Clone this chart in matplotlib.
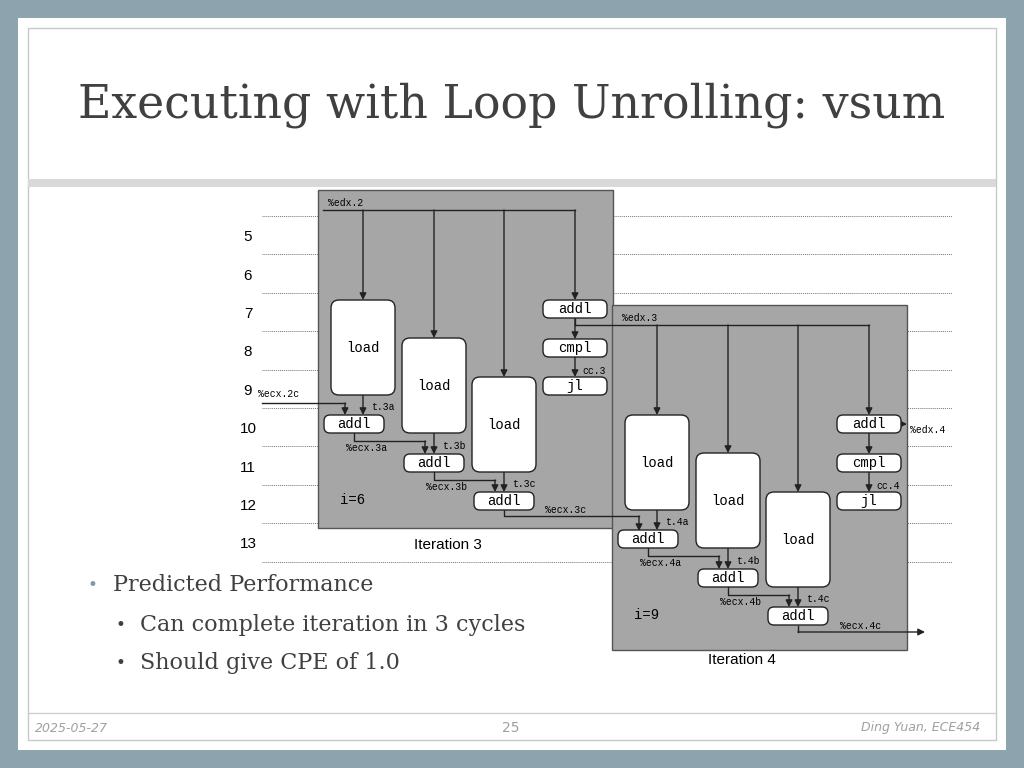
import matplotlib
matplotlib.use("Agg")
import matplotlib.pyplot as plt
from matplotlib.patches import Rectangle, FancyBboxPatch
from matplotlib.lines import Line2D

cycles = [5, 6, 7, 8, 9, 10, 11, 12, 13]
iterations = ["Iteration 3", "Iteration 4"]
i_values = ["i=6", "i=9"]
edx_names = ["%edx.2", "%edx.3", "%edx.4"]
ecx_names = [["%ecx.3a", "%ecx.3b", "%ecx.3c"], ["%ecx.4a", "%ecx.4b", "%ecx.4c"]]
t_names = [["t.3a", "t.3b", "t.3c"], ["t.4a", "t.4b", "t.4c"]]
cc_names = ["cc.3", "cc.4"]
bullets = ["Predicted Performance", "Can complete iteration in 3 cycles", "Should give CPE of 1.0"]

fig = plt.figure(figsize=(10.24, 7.68), dpi=100)
ax = fig.add_axes([0, 0, 1, 1])
ax.set_xlim(0, 1024); ax.set_ylim(768, 0); ax.axis("off")
fig.patch.set_facecolor("#8da3ad")
ax.add_patch(Rectangle((18, 18), 988, 732, fc="white", ec="none", zorder=0))
ax.add_patch(Rectangle((28, 28), 968, 712, fc="none", ec="#c8c8c8", lw=1, zorder=0))
ax.add_patch(Rectangle((28, 179), 968, 8, fc="#d9d9d9", ec="none", zorder=0))
ax.text(78, 105, "Executing with Loop Unrolling: vsum", fontsize=33, family="DejaVu Serif",
        color="#404040", va="center")

MONO = "Liberation Mono"
K = "#222222"

# cycle rows
ys0 = 216; step = 38.4
for k in range(len(cycles) + 1):
    y = ys0 + k * step
    ax.plot([262, 952], [y, y], ls=(0, (1, 1)), color="#777777", lw=0.7, zorder=1)
for k, c in enumerate(cycles):
    ax.text(248, ys0 + (k + 0.55) * step, str(c), fontsize=11, family="Liberation Sans",
            ha="center", va="center", zorder=2)

def seg(pts, arrow=True):
    xs, ys = zip(*pts)
    ax.plot(xs[:-1] + (xs[-1],), ys[:-1] + (ys[-1],), color=K, lw=1, zorder=4) if not arrow else None
    if arrow:
        ax.plot(xs[:-1], ys[:-1], color=K, lw=1, zorder=4) if len(pts) > 2 else None
        ax.annotate("", xy=pts[-1], xytext=pts[-2],
                    arrowprops=dict(arrowstyle="-|>", color=K, lw=1, mutation_scale=10,
                                    shrinkA=0, shrinkB=0), zorder=4)

def small(x, y, s, ha="left", size=7):
    ax.text(x, y, s, fontsize=size, family=MONO, ha=ha, va="center", zorder=5)

def box(cx, cy, label, w=62, h=18):
    ax.add_patch(FancyBboxPatch((cx - w / 2, cy - h / 2), w, h, boxstyle="round,pad=0,rounding_size=6",
                                fc="white", ec=K, lw=1, zorder=5))
    ax.text(cx, cy, label, fontsize=10, family=MONO, ha="center", va="center", zorder=6)

def iteration(n, dx, dy):
    ax.add_patch(Rectangle((318 + dx, 190 + dy), 295, 338 + (7 if n else 0), fc="#a6a6a6",
                           ec="#555555", lw=1, zorder=2))
    ax.text(328 + dx, 203 + dy, edx_names[n], fontsize=7, family=MONO, va="center", zorder=5)
    ax.text(448 + dx, 545 + dy, iterations[n], fontsize=11, family="Liberation Sans",
            ha="center", va="center", zorder=5)
    ax.text(340 + dx, 500 + dy, i_values[n], fontsize=10, family=MONO, va="center", zorder=5)
    y_e = 210 + dy
    x_start = 323 + dx if n == 0 else 575
    ax.plot([x_start, 575 + dx], [y_e, y_e], color=K, lw=1, zorder=4)
    if n == 1:
        ax.plot([575, 575], [318, 325], color=K, lw=1, zorder=4)
    lx = [363, 434, 504]; lt = [300, 338, 377]
    for j in range(3):
        seg([(lx[j] + dx, y_e), (lx[j] + dx, lt[j] + dy)])
        ax.add_patch(FancyBboxPatch((lx[j] - 32 + dx, lt[j] + dy), 64, 95,
                                    boxstyle="round,pad=0,rounding_size=8",
                                    fc="white", ec=K, lw=1, zorder=5))
        ax.text(lx[j] + dx, lt[j] + 48 + dy, "load", fontsize=10, family=MONO, ha="center",
                va="center", zorder=6)
    seg([(575 + dx, y_e), (575 + dx, 300 + dy)])
    # control column
    box(575 + dx, 309 + dy, "addl", 64)
    box(575 + dx, 348 + dy, "cmpl", 64)
    box(575 + dx, 386 + dy, "jl", 64)
    seg([(575 + dx, 318 + dy), (575 + dx, 339 + dy)])
    seg([(575 + dx, 357 + dy), (575 + dx, 377 + dy)])
    small(582 + dx, 371 + dy, cc_names[n])
    if n == 1:
        seg([(607 + dx, 309 + dy), (613 + dx, 309 + dy)])
        small(616 + dx, 315 + dy, edx_names[2])
    # adds
    ax_c = [(354, 424), (434, 463), (504, 501)]
    for j, (cx, cy) in enumerate(ax_c):
        seg([(lx[j] + dx, lt[j] + 95 + dy), (lx[j] + dx, cy - 9 + dy)])
        small(lx[j] + 8 + dx, cy - 17 + dy, t_names[n][j])
        box(cx + dx, cy + dy, "addl", 60)
    if n == 0:
        seg([(262, 403), (345, 403), (345, 415)])
        small(258, 394, "%ecx.2c")
    for j in range(2):
        cx, cy = ax_c[j]; nx, ny = ax_c[j + 1]
        yl = cy + 17
        seg([(cx + dx, cy + 9 + dy), (cx + dx, yl + dy), (nx - 9 + dx, yl + dy), (nx - 9 + dx, ny - 9 + dy)])
        small(cx - 8 + dx, cy + 24 + dy, ecx_names[n][j])
    cx, cy = ax_c[2]
    if n == 0:
        seg([(504, 510), (504, 516), (639, 516), (639, 531)])
        small(545, 510, ecx_names[0][2])
    else:
        seg([(798, 626), (798, 632), (925, 632)])
        small(840, 626, ecx_names[1][2])

iteration(0, 0, 0)
iteration(1, 294, 115)

# bullets
ax.text(88, 585, "•", fontsize=12, color="#7f9aa5", va="center")
ax.text(113, 585, bullets[0], fontsize=16, family="DejaVu Serif", color="#404040", va="center")
for k, y in enumerate([625, 663]):
    ax.text(115, y, "•", fontsize=12, color="#404040", va="center")
    ax.text(140, y, bullets[k + 1], fontsize=16, family="DejaVu Serif", color="#404040", va="center")

ax.plot([28, 996], [713, 713], color="#d0d0d0", lw=1)
ax.text(35, 728, "2025-05-27", fontsize=9, style="italic", color="#a0a0a0", va="center")
ax.text(511, 728, "25", fontsize=10, color="#a0a0a0", ha="center", va="center")
ax.text(980, 728, "Ding Yuan, ECE454", fontsize=9, style="italic", color="#a0a0a0",
        ha="right", va="center")

fig.savefig("out.png", dpi=100, facecolor=fig.get_facecolor())
